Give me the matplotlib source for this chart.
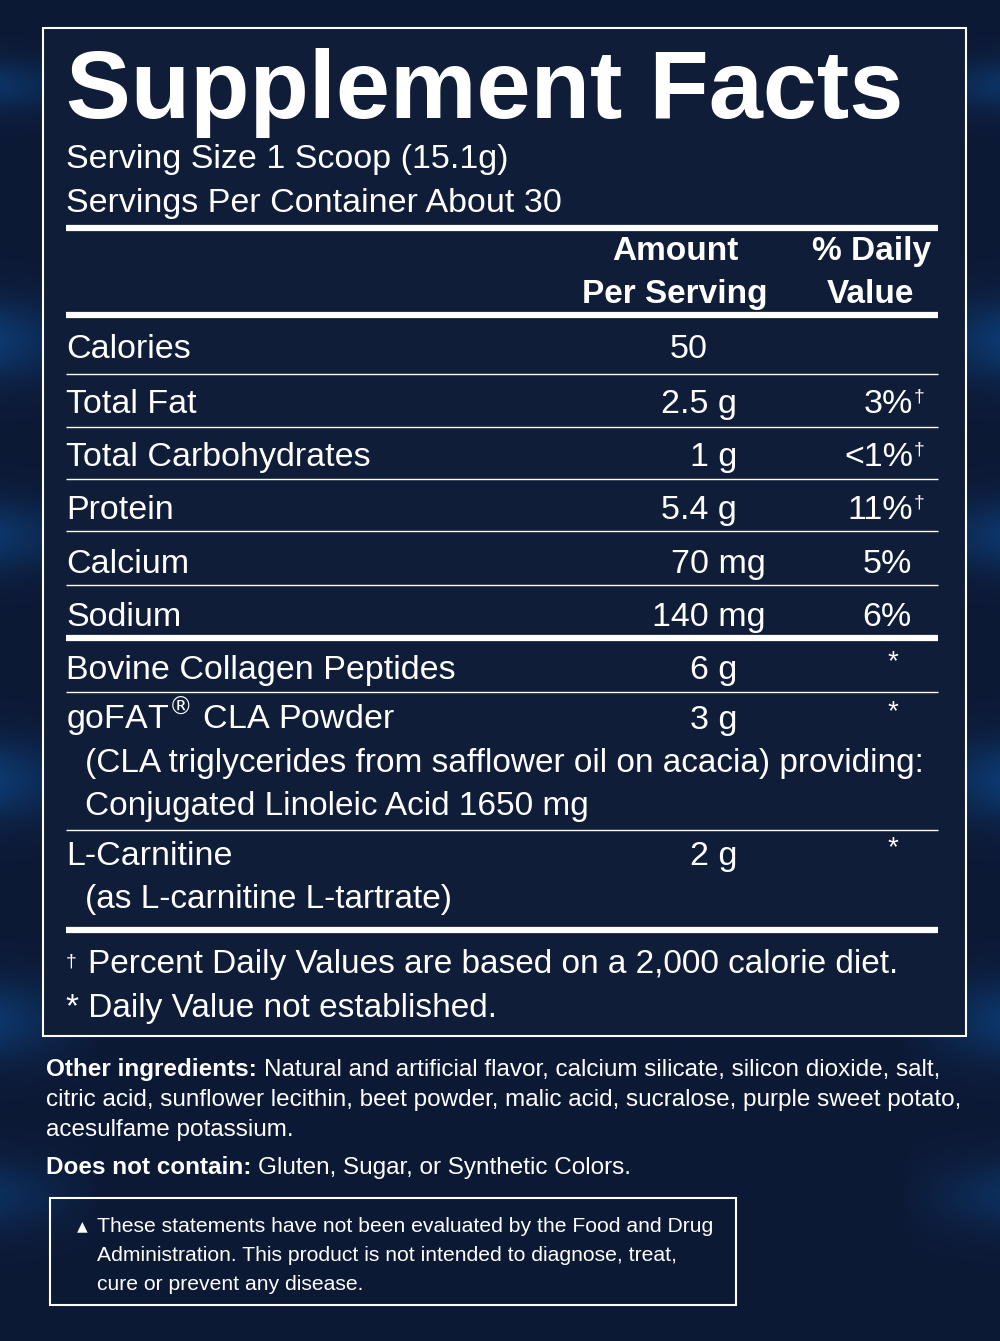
import matplotlib
matplotlib.use("Agg")
import matplotlib.pyplot as plt
import numpy as np
from matplotlib.patches import Rectangle

title = "Supplement Facts"
serving_lines = ["Serving Size 1 Scoop (15.1g)", "Servings Per Container About 30"]
nutrients = ["Calories", "Total Fat", "Total Carbohydrates", "Protein", "Calcium", "Sodium",
             "Bovine Collagen Peptides", "goFAT$^{®}$ CLA Powder", "L-Carnitine"]
amounts = ["50", "2.5 g", "1 g", "5.4 g", "70 mg", "140 mg", "6 g", "3 g", "2 g"]
daily_values = ["", "3%†", "<1%†", "11%†", "5%", "6%", "*", "*", "*"]
sub_lines = {7: ["(CLA triglycerides from safflower oil on acacia) providing:",
                 "Conjugated Linoleic Acid 1650 mg"],
             8: ["(as L-carnitine L-tartrate)"]}
footnotes = ["Percent Daily Values are based on a 2,000 calorie diet.",
             "* Daily Value not established."]
other_ingr = ["Natural and artificial flavor, calcium silicate, silicon dioxide, salt,",
              "citric acid, sunflower lecithin, beet powder, malic acid, sucralose, purple sweet potato,",
              "acesulfame potassium."]
not_contain = "Gluten, Sugar, or Synthetic Colors."
disclaimer = ["These statements have not been evaluated by the Food and Drug",
              "Administration. This product is not intended to diagnose, treat,",
              "cure or prevent any disease."]

FONT = ["Liberation Sans", "DejaVu Sans"]
NARROW = ["Liberation Sans Narrow", "Liberation Sans", "DejaVu Sans"]

fig = plt.figure(figsize=(10, 13.41), dpi=100)
ax = fig.add_axes([0, 0, 1, 1])
ax.set_xlim(0, 1000); ax.set_ylim(1341, 0); ax.axis("off")

bg = np.zeros((1341, 1000, 3))
base = np.array([0.05, 0.10, 0.21])
for i in range(3):
    bg[:, :, i] = base[i]
xs = np.linspace(0, 1, 1000)
edge = np.clip(np.abs(xs - 0.5) * 2 - 0.8, 0, 1) / 0.2
streak_rows = [(60, 110, 0.18), (300, 380, 0.22), (500, 570, 0.2), (740, 820, 0.22), (980, 1060, 0.2), (1160, 1230, 0.15)]
ys = np.arange(1341)
for y0, y1, s in streak_rows:
    c = (y0 + y1) / 2; h = (y1 - y0) / 2
    prof = np.exp(-((ys - c) / h) ** 2)[:, None]
    bg[:, :, 2] += s * prof * edge[None, :]
    bg[:, :, 1] += s * 0.55 * prof * edge[None, :]
bg = np.clip(bg, 0, 1)
ax.imshow(bg, extent=(0, 1000, 1341, 0), aspect="auto", zorder=0)

ax.add_patch(Rectangle((43, 28), 923, 1008, facecolor="#0f1d38", edgecolor="white", lw=1.5, zorder=1))

W = "white"
def t(x, y, s, size, ha="left", weight="normal", fam=FONT):
    return ax.text(x, y, s, fontsize=size, ha=ha, va="baseline", color=W, fontweight=weight, family=fam, zorder=3)
def hl(y, lw):
    ax.plot([66, 938], [y, y], color=W, lw=lw, solid_capstyle="butt", zorder=2)

t(66, 118, title, 70, weight="bold")
t(66, 168, serving_lines[0], 24.5)
t(66, 212, serving_lines[1], 24.5)
hl(228, 4.5)
t(675, 260, "Amount", 24, ha="center", weight="bold")
t(675, 303, "Per Serving", 24, ha="center", weight="bold")
t(872, 260, "% Daily", 24, ha="center", weight="bold")
t(870, 303, "Value", 24, ha="center", weight="bold")
hl(315, 4.5)

row_y = [358, 413, 466, 519, 573, 626, 679, 729, 865]
line_after = [(374, 1), (427, 1), (479, 1), (531, 1), (585, 1), (638, 4.5), (692, 1), (830, 1), (930, 4.5)]
for i, (n, a, d) in enumerate(zip(nutrients, amounts, daily_values)):
    y = row_y[i]
    t(66, y, n, 24.5)
    ax_x = 708 if i == 0 else (766 if "mg" in a else 737)
    t(ax_x, y, a, 24.5, ha="right")
    if d == "*":
        t(893, y - 10, d, 20, ha="center")
    elif "†" in d:
        t(913, y, d.replace("†", ""), 24.5, ha="right")
        t(914, y - 12, "†", 14)
    elif d:
        t(912, y, d, 24.5, ha="right")
    for k, s in enumerate(sub_lines.get(i, [])):
        t(85, y + 43 * (k + 1), s, 24)
for y, lw in line_after:
    hl(y, lw)

t(66, 966, "†", 14)
t(88, 973, footnotes[0], 24)
t(66, 1017, footnotes[1], 24)

lab = t(46, 1076, "Other ingredients: ", 17.5, weight="bold", fam=NARROW)
fig.canvas.draw()
t(lab.get_window_extent().x1, 1076, other_ingr[0], 17.5, fam=NARROW)
t(46, 1106, other_ingr[1], 17.5, fam=NARROW)
t(46, 1136, other_ingr[2], 17.5, fam=NARROW)
lab2 = t(46, 1174, "Does not contain: ", 17.5, weight="bold", fam=NARROW)
fig.canvas.draw()
t(lab2.get_window_extent().x1, 1174, not_contain, 17.5, fam=NARROW)

ax.add_patch(Rectangle((50, 1198), 686, 107, facecolor="none", edgecolor="white", lw=1.5, zorder=2))
t(82, 1230, "▲", 10, ha="center", fam=["DejaVu Sans"])
for k, s in enumerate(disclaimer):
    t(97, 1232 + 29 * k, s, 15.2, fam=NARROW)

fig.savefig("out.png", dpi=100)
